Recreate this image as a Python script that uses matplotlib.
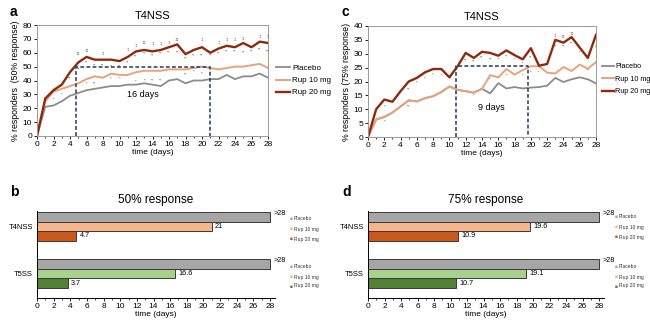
import numpy as np
import matplotlib
matplotlib.use("Agg")
import matplotlib.pyplot as plt
from matplotlib.ticker import MultipleLocator

plt.rcParams["font.family"] = ["Liberation Sans", "DejaVu Sans"]

GRAY = "#8c8c8c"
PEACH = "#e9a27a"
BROWN = "#8e2a0c"
NAVY = "#1f3864"

days = np.arange(0, 29)

# -- panel a: 50% response, T4NSS
a_placebo = [0, 21, 22, 25, 29, 31, 33, 34, 35, 36, 36, 37, 37, 38, 37, 36, 40, 41, 38, 40,
             40, 41, 41, 44, 41, 43, 43, 45, 42]
a_rup10 = [0, 25, 32, 34, 36, 38, 41, 43, 42, 45, 44, 44, 46, 47, 47, 47, 48, 48, 48, 49,
           50, 49, 48, 49, 50, 50, 51, 52, 49]
a_rup20 = [0, 27, 33, 37, 46, 53, 57, 55, 55, 55, 54, 57, 61, 62, 61, 62, 64, 66, 59, 62,
           64, 60, 63, 65, 64, 67, 64, 68, 67]
a_box = (4.7, 21, 50)
a_sig = [(5, 59, "‡‡"), (6, 61, "‡‡"), (8, 59, "‡"), (11, 62, "‡"), (12, 65, "‡"), (13, 67, "‡‡"),
         (14, 66, "‡"), (15, 66, "‡"), (16, 67, "‡"), (17, 69, "‡‡"), (20, 69, "‡"), (22, 67, "‡"),
         (23, 69, "‡"), (24, 69, "‡"), (25, 70, "‡"), (27, 71, "‡"), (28, 71, "‡"),
         (4, 41, "**"), (5, 48, "**"), (6, 53, "**"), (7, 51, "**"), (8, 51, "**"), (9, 50, "**"),
         (10, 50, "**"), (11, 53, "**"), (12, 57, "**"), (13, 59, "**"), (14, 58, "**"), (15, 59, "**"),
         (16, 60, "**"), (17, 60, "**"), (18, 56, "**"), (19, 58, "**"), (20, 58, "**"), (21, 58, "**"),
         (22, 59, "**"), (23, 61, "**"), (24, 61, "**"), (25, 60, "**"), (26, 61, "**"), (27, 62, "**"),
         (28, 61, "**"),
         (2, 26, "*"), (3, 30, "*"), (6, 38, "*"), (7, 38, "**"), (9, 41, "*"), (10, 41, "*"),
         (12, 39, "*"), (13, 40, "*"), (14, 40, "**"), (15, 40, "**"), (18, 44, "**"), (19, 46, "*"),
         (20, 45, "*")]

# -- panel c: 75% response, T4NSS
c_placebo = [0, 6.3, 7.2, 8.8, 11, 13.2, 12.8, 14, 14.7, 16.2, 18.2, 17, 16.5, 16, 17.4, 15.7,
             19.4, 17.5, 18, 17.5, 17.8, 18, 18.5, 21.3, 19.8, 20.8, 21.5, 20.8, 19.3]
c_rup10 = [0, 6.3, 7.2, 8.8, 11, 13.2, 12.8, 14, 14.7, 16.2, 18.2, 17, 16.5, 16, 17.3, 22.3,
           21.5, 24.5, 22.5, 24.1, 25.5, 25.5, 23.2, 22.9, 25.2, 23.8, 26.1, 24.6, 27]
c_rup20 = [0, 10, 13.5, 12.7, 16.5, 20, 21.3, 23.3, 24.5, 24.5, 21.5, 25.5, 30.3, 28.5, 30.7,
           30.3, 29.3, 31.2, 29.5, 28, 32, 25.7, 26.3, 35, 34, 36, 32.2, 28.5, 36.8]
c_box = (10.8, 19.6, 25.5)
c_sig = [(23, 36.5, "‡"), (24, 36, "‡‡"), (25, 37, "‡‡"),
         (2, 11, "*"), (5, 17, "**"), (6, 19.5, "*"), (7, 21, "*"), (8, 22.5, "*"), (9, 22, "*"),
         (12, 27.5, "**"), (13, 27, "**"), (14, 28.5, "**"), (15, 28, "**"), (16, 28, "*"),
         (17, 29, "**"), (18, 28, "*"), (19, 26.5, "*"), (20, 28.7, "**"), (23, 32.5, "**"),
         (24, 32.5, "**"), (25, 33.5, "**"), (26, 30.5, "*"), (28, 32, "*"),
         (2, 5.5, "*"), (5, 11, "**"), (13, 15, "*"), (15, 20.5, "*"), (17, 22, "*"), (19, 22, "*"),
         (20, 23, "*"), (21, 23, "*"), (27, 24, "*")]

# -- bar panels b / d
groups = ["T4NSS", "T5SS"]
arms = ["Placebo", "Rup 10 mg", "Rup 20 mg"]
b_values = [[28, 21, 4.7], [28, 16.6, 3.7]]
b_labels = [[">28", "21", "4.7"], [">28", "16.6", "3.7"]]
d_values = [[28, 19.6, 10.9], [28, 19.1, 10.7]]
d_labels = [[">28", "19.6", "10.9"], [">28", "19.1", "10.7"]]
bar_colors = [["#a6a6a6", "#f7b58c", "#c9581a"], ["#a6a6a6", "#a9d18e", "#548235"]]


def line_panel(ax, placebo, rup10, rup20, ymax, ystep, box, box_text, text_y, sig, ylabel):
    ax.plot(days, placebo, color=GRAY, lw=1.3, label="Placebo")
    ax.plot(days, rup10, color=PEACH, lw=1.4, label="Rup 10 mg")
    ax.plot(days, rup20, color=BROWN, lw=1.7, label="Rup 20 mg")
    x0, x1, top = box
    ax.plot([x0, x0, x1, x1], [0, top, top, 0], color=NAVY, lw=1.1, ls=(0, (2.5, 1.5)))
    ax.text((x0 + x1) / 2, text_y, box_text, ha="center", va="center", fontsize=6.5)
    for d, y, s in sig:
        ax.text(d, y, s, ha="center", va="center", fontsize=3, color="#444444")
    ax.set_xlim(0, 28)
    ax.set_ylim(0, ymax)
    ax.xaxis.set_major_locator(MultipleLocator(2))
    ax.xaxis.set_minor_locator(MultipleLocator(1))
    ax.yaxis.set_major_locator(MultipleLocator(ystep))
    ax.set_xlabel("time (days)", fontsize=6, labelpad=1)
    ax.set_ylabel(ylabel, fontsize=6.3, labelpad=2)
    ax.tick_params(labelsize=6, length=2, pad=1.5, width=0.6)
    ax.tick_params(which="minor", length=1.2, width=0.5)
    for sp in ax.spines.values():
        sp.set_color("#9a9a9a")
        sp.set_linewidth(0.7)
    ax.set_title("T4NSS", fontsize=8, pad=4)


def bar_panel(ax, values, labels, title):
    height = 1.0
    for gi, start in enumerate([0.1, 5.0]):
        for ai in range(3):
            yc = start + ai * height + height / 2
            ax.barh(yc, values[gi][ai], height=height, color=bar_colors[gi][ai],
                    edgecolor="#3a3a3a", linewidth=0.7)
            ax.text(values[gi][ai] + 0.4, yc - (0.3 if ai == 0 else 0), labels[gi][ai],
                    ha="left", va="center", fontsize=5.2)
    ax.set_ylim(9.06, 0)
    ax.set_yticks([1.6, 6.5])
    ax.set_yticklabels(groups)
    ax.set_xlim(0, 28.6)
    ax.set_xticks(range(0, 29, 2))
    ax.xaxis.set_minor_locator(MultipleLocator(1))
    ax.tick_params(axis="y", length=0, labelsize=5.5, pad=3)
    ax.tick_params(axis="x", labelsize=6, length=2, pad=1.5, width=0.6)
    ax.tick_params(which="minor", length=1.2, width=0.5)
    ax.spines["top"].set_visible(False)
    ax.spines["right"].set_visible(False)
    ax.spines["left"].set_linewidth(0.7)
    ax.spines["bottom"].set_linewidth(0.7)
    ax.set_xlabel("time (days)", fontsize=6, labelpad=1)
    ax.set_title(title, fontsize=8.5, pad=6)


def bar_legend(fig, x, ys, colors):
    for y, c, name in zip(ys, colors, arms):
        fig.text(x, y, "\u25a0", color=c, fontsize=3.5, ha="left", va="center")
        fig.text(x + 0.006, y, name, fontsize=3.6, ha="left", va="center", color="#333333")


fig = plt.figure(figsize=(6.5, 3.22), dpi=100)
W, H = 650, 322

ax_a = fig.add_axes([37 / W, (H - 136) / H, 231 / W, 111 / H])
line_panel(ax_a, a_placebo, a_rup10, a_rup20, 80, 10, a_box, "16 days", 30, a_sig,
           "% responders  (50% response)")
ax_a.legend(loc="center left", bbox_to_anchor=(1.02, 0.5), frameon=False, fontsize=5.8,
            handlelength=1.8, handletextpad=0.2, labelspacing=0.55, borderaxespad=0)

ax_c = fig.add_axes([368 / W, (H - 137) / H, 228 / W, 111 / H])
line_panel(ax_c, c_placebo, c_rup10, c_rup20, 40, 5, c_box, "9 days", 10.5, c_sig,
           "% responders (75% response)")
ax_c.legend(loc="center left", bbox_to_anchor=(1.015, 0.52), frameon=False, fontsize=5.2,
            handlelength=1.6, handletextpad=0.2, labelspacing=0.75, borderaxespad=0)

ax_b = fig.add_axes([37 / W, (H - 298) / H, 238 / W, 87 / H])
bar_panel(ax_b, b_values, b_labels, "50% response")
ax_d = fig.add_axes([368 / W, (H - 298) / H, 236 / W, 87 / H])
bar_panel(ax_d, d_values, d_labels, "75% response")

for x, rows in [(290 / W, [219, 229, 239, 267, 277, 286]), (615 / W, [216, 227, 237, 267, 277, 286])]:
    bar_legend(fig, x, [(H - r) / H for r in rows[:3]], bar_colors[0])
    bar_legend(fig, x, [(H - r) / H for r in rows[3:]], bar_colors[1])

for lab, x, y in [("a", 10, 12), ("c", 342, 12), ("b", 10, 192), ("d", 342, 192)]:
    fig.text(x / W, (H - y) / H, lab, fontsize=10, fontweight="bold", ha="left", va="center")

fig.savefig("out.png", dpi=100)
